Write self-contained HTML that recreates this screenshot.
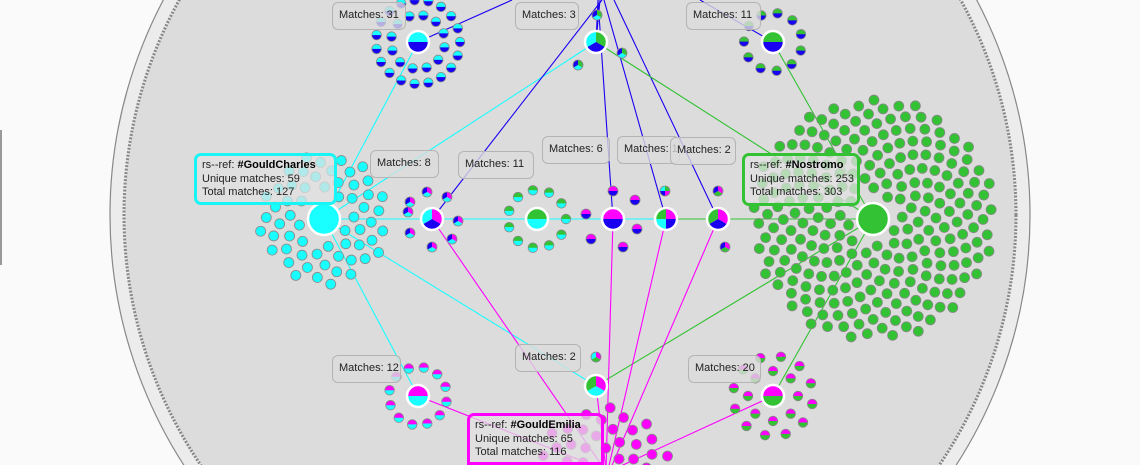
<!DOCTYPE html>
<html><head><meta charset="utf-8">
<style>
html,body{margin:0;padding:0;background:#fafafa;width:1140px;height:465px;overflow:hidden;font-family:"Liberation Sans",sans-serif;position:relative}
svg{position:absolute;left:0;top:0}
.lb{position:absolute;box-sizing:border-box;height:28px;border:1.5px solid #b4b4b4;border-radius:6px;background:rgba(220,220,220,0.8);font-size:11px;color:#222;line-height:25px;padding-left:6px;white-space:nowrap;overflow:hidden}
.info{position:absolute;box-sizing:border-box;border:3px solid;border-radius:7px;background:rgba(225,225,225,0.75);font-size:11px;color:#222;line-height:13.5px;padding:3px 5px;white-space:nowrap;overflow:hidden}
.info b{color:#000}
</style></head><body>
<svg id="s" width="1140" height="465" viewBox="0 0 1140 465" xmlns="http://www.w3.org/2000/svg">
<rect x="0" y="130" width="2" height="135" fill="#999"/>
<circle cx="570" cy="215" r="460" fill="#ececec" stroke="#888" stroke-width="1.2"/>
<circle cx="570" cy="215" r="445" fill="#dcdcdc"/>
<circle cx="570" cy="215" r="446" fill="none" stroke="#888" stroke-width="3" stroke-dasharray="2 1.5"/>
<g id="edges" stroke-width="1.1" fill="none"></g>
<g id="nodes"></g>
</svg>

<div class="lb" style="left:332px;top:2px;width:74px">Matches: 31</div>
<div class="lb" style="left:515px;top:2px;width:64px">Matches: 3</div>
<div class="lb" style="left:686px;top:2px;width:75px">Matches: 11</div>
<div class="lb" style="left:370px;top:150px;width:69px">Matches: 8</div>
<div class="lb" style="left:458px;top:151px;width:76px">Matches: 11</div>
<div class="lb" style="left:542px;top:136px;width:68px">Matches: 6</div>
<div class="lb" style="left:617px;top:136px;width:63px">Matches: 1</div>
<div class="lb" style="left:670px;top:137px;width:66px">Matches: 2</div>
<div class="lb" style="left:332px;top:355px;width:69px">Matches: 12</div>
<div class="lb" style="left:515px;top:344px;width:66px">Matches: 2</div>
<div class="lb" style="left:688px;top:355px;width:73px">Matches: 20</div>

<div class="info" style="left:194px;top:153px;width:143px;height:52px;border-color:#19f5f5">rs--ref: <b>#GouldCharles</b><br>Unique matches: 59<br>Total matches: 127</div>
<div class="info" style="left:742px;top:153px;width:118px;height:53px;border-color:#33c233">rs--ref: <b>#Nostromo</b><br>Unique matches: 253<br>Total matches: 303</div>
<div class="info" style="left:467px;top:413px;width:137px;height:52px;border-color:#ff00ff;border-bottom-left-radius:0;border-bottom-right-radius:0">rs--ref: <b>#GouldEmilia</b><br>Unique matches: 65<br>Total matches: 116</div>

<script>
const C='#19ffff',B='#1a00f0',M='#ff00ff',G='#33c233';
const NS='http://www.w3.org/2000/svg';
const E=document.getElementById('edges'),N=document.getElementById('nodes');
function el(p,t,a){const e=document.createElementNS(NS,t);for(const k in a)e.setAttribute(k,a[k]);p.appendChild(e);return e;}
function line(x1,y1,x2,y2,c){el(E,'line',{x1,y1,x2,y2,stroke:c});}
function dot(x,y,r,cols,big){
  const g=el(N,'g',{});
  const sw=big?2.5:0.8, sc=big?'#fff':'#888';
  if(cols.length==1){el(g,'circle',{cx:x,cy:y,r,fill:cols[0],stroke:sc,'stroke-width':sw});return;}
  if(cols.length==2){
    el(g,'circle',{cx:x,cy:y,r,fill:cols[1]});
    el(g,'path',{d:`M${x-r},${y}A${r},${r} 0 0 1 ${x+r},${y}Z`,fill:cols[0]});
  } else {
    const n=cols.length;
    for(let i=0;i<n;i++){
      const a0=-Math.PI/2+i*2*Math.PI/n,a1=a0+2*Math.PI/n;
      el(g,'path',{d:`M${x},${y}L${x+r*Math.cos(a0)},${y+r*Math.sin(a0)}A${r},${r} 0 0 1 ${x+r*Math.cos(a1)},${y+r*Math.sin(a1)}Z`,fill:cols[i]});
    }
  }
  el(g,'circle',{cx:x,cy:y,r,fill:'none',stroke:sc,'stroke-width':sw});
}
function phyllo(cx,cy,n,r0,r1,cols,rd){
  const A=(r1*r1-r0*r0)/n;
  for(let i=0;i<n;i++){const r=Math.sqrt(r0*r0+i*A),a=i*2.39996+0.5;dot(cx+r*Math.cos(a),cy+r*Math.sin(a),rd||5,cols);}
}
function ring(cx,cy,n,r,cols,off){for(let i=0;i<n;i++){const a=(off||0)+i*2*Math.PI/n;dot(cx+r*Math.cos(a),cy+r*Math.sin(a),4.8,cols);}}

line(324,219,666,219,C);line(666,219,873,219,G);
line(324,219,418,42,C);line(324,219,596,42,C);
line(324,219,418,396,C);line(324,219,596,386,C);
line(418,42,512,0,B);line(432,219,602,0,B);line(613,219,598,0,B);line(666,219,604,0,B);line(718,219,614,0,B);
line(773,42,700,0,B);line(596,42,598,0,B);line(596,42,600,0,B);
line(596,42,873,219,G);line(773,42,873,219,G);line(596,386,873,219,G);line(773,396,873,219,G);
line(432,219,605,470,M);line(613,219,606,470,M);line(666,219,608,470,M);line(718,219,610,470,M);
line(418,396,605,470,M);line(773,396,612,470,M);line(596,386,606,470,M);

phyllo(324,219,59,24,66,[C]);
phyllo(873,219,253,24,122,[G]);
phyllo(605,480,65,22,74,[M]);
ring(418,42,12,27,[C,B],0.2);ring(418,42,19,42,[C,B],0);
ring(773,42,11,29,[G,B],0.3);
ring(418,396,12,29,[M,C],0.2);
ring(773,396,8,25,[M,G],0);ring(773,396,12,40,[M,G],0.2);
ring(537,219,11,29,[G,C],0);
[[ -22,-17],[15,-22],[26,2],[20,20],[0,28],[-22,14],[-24,-7],[-5,-27]].forEach(d=>dot(432+d[0],219+d[1],5,[M,C,B]));
[[0,-28],[-27,-5],[22,-19],[24,10],[-22,20],[10,28]].forEach(d=>dot(613+d[0],219+d[1],5,[M,B]));
dot(665,191,5,[G,M,B,C]);dot(718,191,5,[M,G,B]);dot(725,247,5,[M,G,B]);
dot(597,15,5,[G,C,B]);dot(622,53,5,[G,C,B]);dot(578,65,5,[G,C,B]);
dot(596,357,5,[M,G,C]);

dot(324,219,16,[C],1);dot(873,219,16,[G],1);
dot(418,42,11,[C,B],1);dot(596,42,11,[G,B,C],1);dot(773,42,11,[G,B],1);
dot(432,219,11,[M,B,C],1);dot(537,219,11,[G,C],1);dot(613,219,11,[M,B],1);
dot(666,219,11,[M,B,C,G],1);dot(718,219,11,[M,B,G],1);
dot(418,396,11,[M,C],1);dot(596,386,11,[M,C,G],1);dot(773,396,11,[M,G],1);
</script>
</body></html>
